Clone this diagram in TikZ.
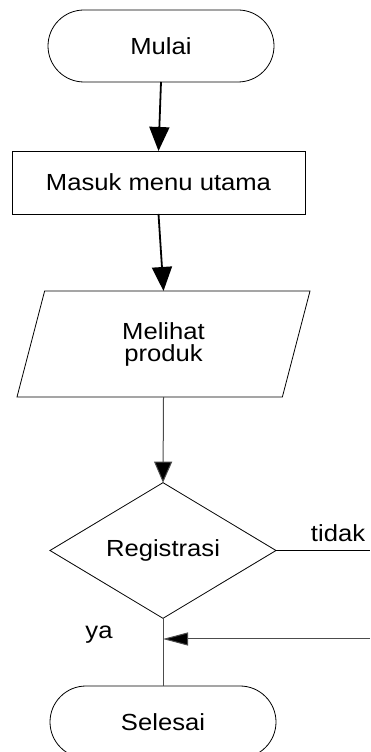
\documentclass[tikz,border=0pt]{standalone}
\usepackage{fontspec}
\setmainfont{Liberation Sans}[FakeStretch=1.1]
\usetikzlibrary{shapes.geometric,arrows.meta}
\begin{document}
\begin{tikzpicture}[x=1pt,y=1pt,
  every node/.style={font=\fontsize{23.3}{22}\selectfont, inner sep=0pt, outer sep=0pt},
  term/.style={draw=black, line width=0.8pt, rectangle, rounded corners=36pt, minimum width=226pt, minimum height=72pt},
  procbox/.style={draw=black, line width=0.8pt, rectangle, minimum width=293pt, minimum height=63pt},
  iobox/.style={draw=black, line width=0.8pt, trapezium, trapezium left angle=57.7, trapezium right angle=122.3, trapezium stretches body, minimum width=293pt, minimum height=106pt, align=center},
  decbox/.style={draw=black, line width=0.8pt, diamond, minimum width=226pt, minimum height=107pt},
  thickarr/.style={line width=1.8pt, -{Triangle[length=24pt,width=20pt]}},
  thinarr/.style={draw=gray!60!black, line width=1pt, -{Triangle[length=21pt,width=18pt,fill=black]}},
  leftarr/.style={draw=gray!60!black, line width=1pt, -{Triangle[length=25pt,width=13pt,fill=black]}},
  plainline/.style={draw=gray!60!black, line width=1pt}]
\useasboundingbox (0,0) rectangle (370,752);
\fill[white] (0,0) rectangle (370,752);
\node[term] (mulai) at (161,706) {Mulai};
\node[procbox] (masuk) at (158.5,569.5) {Masuk menu utama};
\node[iobox] (lihat) at (163.5,408) {Melihat\\produk};
\node[decbox] (reg) at (163,201.5) {Registrasi};
\node[term] (selesai) at (163,30) {Selesai};
\coordinate (tr) at (370,201.5);
\coordinate (rr) at (370,113);
\coordinate (join) at (163,113);
\node (tidak) at (338,219) {tidak};
\node (ya) at (99,117) {ya};
\draw[thickarr] (mulai.south) -- (masuk.north);
\draw[thickarr] (masuk.south) -- (lihat.north);
\draw[thinarr] (lihat.south) -- (reg.north);
\draw[plainline, draw=black] (reg.east) -- (tr);
\draw[plainline] (reg.south) -- (selesai.north);
\draw[leftarr] (rr) -- (join);
\end{tikzpicture}
\end{document}
